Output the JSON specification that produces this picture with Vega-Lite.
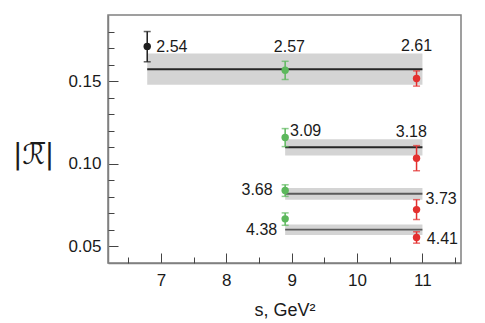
{
  "$schema": "https://vega.github.io/schema/vega-lite/v6.json",
  "width": 353,
  "height": 248,
  "autosize": "none",
  "padding": {"left": 108, "top": 15, "right": 24, "bottom": 60},
  "config": {
    "view": {"stroke": "#808080", "strokeWidth": 1.5},
    "font": "Liberation Sans"
  },
  "resolve": {"axis": {"x": "independent", "y": "independent"}},
  "datasets": {
    "bands": [
      {"x1": 6.79, "x2": 11.0, "lo": 0.1478, "hi": 0.1667, "mid": 0.1572, "tone": "dark"},
      {"x1": 8.9, "x2": 11.0, "lo": 0.105, "hi": 0.1149, "mid": 0.110, "tone": "dark"},
      {"x1": 8.9, "x2": 11.0, "lo": 0.0783, "hi": 0.0854, "mid": 0.0819, "tone": "gray"},
      {"x1": 8.9, "x2": 11.0, "lo": 0.057, "hi": 0.0633, "mid": 0.0602, "tone": "gray"}
    ],
    "points": [
      {"s": 6.79, "r": 0.171, "lo": 0.1617, "hi": 0.180, "c": "black"},
      {"s": 8.9, "r": 0.1566, "lo": 0.151, "hi": 0.162, "c": "green"},
      {"s": 10.91, "r": 0.1516, "lo": 0.147, "hi": 0.1562, "c": "red"},
      {"s": 8.9, "r": 0.1159, "lo": 0.1104, "hi": 0.1213, "c": "green"},
      {"s": 10.91, "r": 0.1034, "lo": 0.0958, "hi": 0.111, "c": "red"},
      {"s": 8.9, "r": 0.0839, "lo": 0.0803, "hi": 0.0873, "c": "green"},
      {"s": 10.91, "r": 0.0723, "lo": 0.0663, "hi": 0.0783, "c": "red"},
      {"s": 8.9, "r": 0.0667, "lo": 0.0628, "hi": 0.0703, "c": "green"},
      {"s": 10.91, "r": 0.0554, "lo": 0.052, "hi": 0.0589, "c": "red"}
    ],
    "labels": [
      {"lx": 7.168, "ly": 0.1707, "t": "2.54"},
      {"lx": 8.965, "ly": 0.1707, "t": "2.57"},
      {"lx": 10.91, "ly": 0.1711, "t": "2.61"},
      {"lx": 9.214, "ly": 0.1201, "t": "3.09"},
      {"lx": 10.83, "ly": 0.1192, "t": "3.18"},
      {"lx": 8.47, "ly": 0.0839, "t": "3.68"},
      {"lx": 11.286, "ly": 0.0787, "t": "3.73"},
      {"lx": 8.54, "ly": 0.0602, "t": "4.38"},
      {"lx": 11.305, "ly": 0.0546, "t": "4.41"}
    ]
  },
  "layer": [
    {
      "data": {"name": "bands"},
      "mark": {"type": "rect", "fill": "#d4d4d4"},
      "encoding": {
        "x": {
          "field": "x1", "type": "quantitative",
          "scale": {"domain": [6.19, 11.59], "nice": false, "zero": false},
          "axis": {
            "orient": "bottom",
            "title": "s, GeV²",
            "values": [7, 8, 9, 10, 11],
            "format": "d",
            "labelOverlap": false,
            "tickSize": -10,
            "tickColor": "#444",
            "tickWidth": 1,
            "domainColor": "#808080",
            "domainWidth": 1.5,
            "labelFontSize": 17,
            "labelColor": "#1a1a1a",
            "labelPadding": 19,
            "titleFontSize": 18,
            "titleFontWeight": "normal",
            "titleColor": "#1a1a1a",
            "titlePadding": 13,
            "grid": false
          }
        },
        "x2": {"field": "x2"},
        "y": {
          "field": "lo", "type": "quantitative",
          "scale": {"domain": [0.04, 0.19], "nice": false, "zero": false},
          "axis": {
            "orient": "left",
            "title": "|ℛ̅|",
            "values": [0.05, 0.1, 0.15],
            "format": ".2f",
            "labelOverlap": false,
            "tickSize": -10,
            "tickColor": "#444",
            "tickWidth": 1,
            "domainColor": "#808080",
            "domainWidth": 1.5,
            "labelFontSize": 17,
            "labelColor": "#1a1a1a",
            "labelPadding": 17,
            "titleFont": "DejaVu Sans",
            "titleFontSize": 28,
            "titleFontWeight": "normal",
            "titleColor": "#1a1a1a",
            "titleAngle": 0,
            "titleAlign": "center",
            "titleBaseline": "middle",
            "titleX": -75,
            "titleY": 140,
            "grid": false
          }
        },
        "y2": {"field": "hi"}
      }
    },
    {
      "data": {"name": "bands"},
      "mark": {"type": "rule", "strokeWidth": 1.8},
      "encoding": {
        "x": {
          "field": "x1", "type": "quantitative",
          "scale": {"domain": [6.19, 11.59], "nice": false, "zero": false},
          "axis": {"orient": "bottom", "title": null, "labels": false, "domain": false, "grid": false,
                   "values": [6.5, 7.5, 8.5, 9.5, 10.5, 11.5], "tickSize": -6, "tickColor": "#444", "tickWidth": 1}
        },
        "x2": {"field": "x2"},
        "y": {
          "field": "mid", "type": "quantitative",
          "scale": {"domain": [0.04, 0.19], "nice": false, "zero": false},
          "axis": {"orient": "left", "title": null, "labels": false, "domain": false, "grid": false,
                   "values": [0.06, 0.07, 0.08, 0.09, 0.11, 0.12, 0.13, 0.14, 0.16, 0.17, 0.18], "tickSize": -6, "tickColor": "#444", "tickWidth": 1}
        },
        "stroke": {"field": "tone", "type": "nominal", "scale": {"domain": ["dark", "gray"], "range": ["#262626", "#5a5a5a"]}, "legend": null}
      }
    },
    {
      "data": {"name": "points"},
      "mark": {"type": "errorbar", "ticks": {"size": 7}, "thickness": 1.5},
      "encoding": {
        "x": {"field": "s", "type": "quantitative", "axis": null, "scale": {"domain": [6.19, 11.59], "nice": false, "zero": false}},
        "y": {"field": "lo", "type": "quantitative", "axis": null, "scale": {"domain": [0.04, 0.19], "nice": false, "zero": false}},
        "y2": {"field": "hi"},
        "color": {"field": "c", "type": "nominal", "scale": {"domain": ["black", "green", "red"], "range": ["#1e1e1e", "#5cb85c", "#e3302f"]}, "legend": null}
      }
    },
    {
      "data": {"name": "points"},
      "mark": {"type": "circle", "size": 55, "opacity": 1},
      "encoding": {
        "x": {"field": "s", "type": "quantitative", "axis": null, "scale": {"domain": [6.19, 11.59], "nice": false, "zero": false}},
        "y": {"field": "r", "type": "quantitative", "axis": null, "scale": {"domain": [0.04, 0.19], "nice": false, "zero": false}},
        "color": {"field": "c", "type": "nominal", "scale": {"domain": ["black", "green", "red"], "range": ["#1e1e1e", "#5cb85c", "#e3302f"]}, "legend": null}
      }
    },
    {
      "data": {"name": "labels"},
      "mark": {"type": "text", "fontSize": 16, "color": "#1a1a1a", "align": "center", "baseline": "middle"},
      "encoding": {
        "x": {"field": "lx", "type": "quantitative", "axis": null, "scale": {"domain": [6.19, 11.59], "nice": false, "zero": false}},
        "y": {"field": "ly", "type": "quantitative", "axis": null, "scale": {"domain": [0.04, 0.19], "nice": false, "zero": false}},
        "text": {"field": "t", "type": "nominal"}
      }
    }
  ]
}
